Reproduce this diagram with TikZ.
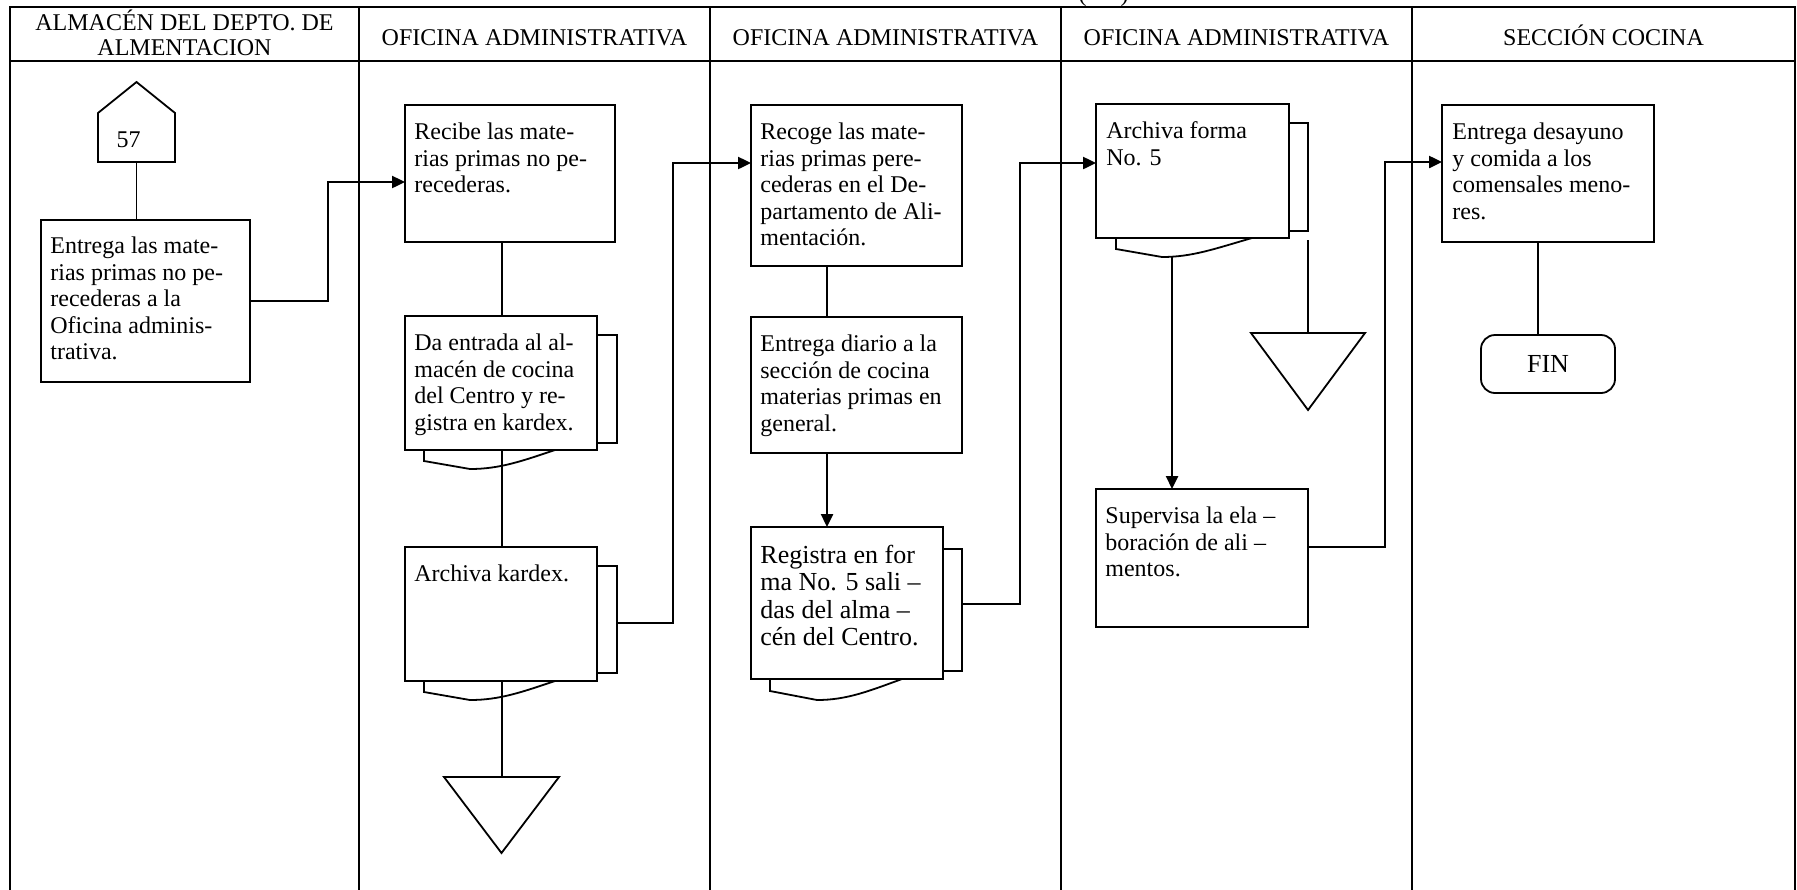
\documentclass[tikz,border=0pt]{standalone}
\usepackage{fontspec}
\setmainfont{Liberation Serif}
\usetikzlibrary{arrows.meta,fit}
\newcommand\fs{\fontsize{12}{13.25}\selectfont}
\newcommand\fsb{\fontsize{13}{13.6}\selectfont}
\newcommand\fl{\rule{0pt}{9.6pt}}
\newcommand\hl{\rule{0pt}{11pt}}
\begin{document}
\begin{tikzpicture}[x=0.5pt,y=-0.5pt,
  frame/.style={line width=1.1pt},
  shp/.style={line width=0.9pt},
  box/.style={draw, line width=0.9pt, inner sep=0pt, outer sep=0pt, fit={#1}},
  ghost/.style={inner sep=0pt, outer sep=0pt, fit={#1}},
  txt/.style={anchor=north west, inner sep=0pt, align=left, font=\fs},
  head/.style={anchor=north, inner sep=0pt, align=center, font=\fontsize{12}{12.5}\selectfont},
  ln/.style={line width=0.8pt},
  arr/.style={line width=1.2pt, -{Triangle[length=6.5pt,width=6pt]}},
  line join=miter]
\useasboundingbox (0,0) rectangle (1797,889);

% swimlane table
\draw[frame] (10,895) -- (10,7) -- (1795,7) -- (1795,895);
\draw[frame] (10,61) -- (1795,61);
\foreach \x in {359,710,1061,1412} \draw[frame] (\x,7) -- (\x,895);
\node[anchor=base, inner sep=0pt, font=\fontsize{12}{13}\selectfont] (cont) at (1103.5,1) {(\hspace{17pt})};

% lane headers
\node[head] (h1) at (184.5,8) {\hl ALMACÉN DEL DEPTO. DE\\ALMENTACION};
\node[head] (h2) at (534.5,23.5) {\hl OFICINA ADMINISTRATIVA};
\node[head] (h3) at (885.5,23.5) {\hl OFICINA ADMINISTRATIVA};
\node[head] (h4) at (1236.5,23.5) {\hl OFICINA ADMINISTRATIVA};
\node[head] (h5) at (1603.5,23.5) {\hl SECCIÓN COCINA};

% lane 1
\node[ghost={(98,82)(175,162)}] (off57) {};
\draw[shp] (98,162) -- (98,113) -- (136.5,82) -- (175,113) -- (175,162) -- cycle;
\node[anchor=base, inner sep=0pt, font=\fs] (t57) at (128.5,147) {57};
\node[box={(41,220)(250,382)}] (b1) {};
\node[txt] (t1) at ([shift={(9,14)}]b1.north west) {\fl Entrega las mate-\\rias primas no pe-\\recederas a la\\Oficina adminis-\\trativa.};
\draw[ln] (off57.south) -- (off57.south |- b1.north);

% lane 2
\node[box={(405,105)(615,242)}] (b2) {};
\node[txt] (t2) at ([shift={(9,15)}]b2.north west) {\fl Recibe las mate-\\rias primas no pe-\\recederas.};
\coordinate (k1) at (328,182);
\draw[arr] (b1.east) -| (k1) -- (k1 -| b2.west);

\node[box={(405,316)(597,450)}] (d3) {};
\draw[shp] (597,335) -| (617,443) -- (597,443);
\draw[shp] (424,450) -- (424,461) -- (470,469) .. controls (500,469) and (522,461) .. (555,450);
\node[txt] (t3) at ([shift={(9,15)}]d3.north west) {\fl Da entrada al al-\\macén de cocina\\del Centro y re-\\gistra en kardex.};

\node[box={(405,547)(597,681)}] (d4) {};
\draw[shp] (597,566) -| (617,673) -- (597,673);
\draw[shp] (424,681) -- (424,692) -- (470,700) .. controls (500,700) and (522,692) .. (555,681);
\node[txt] (t4) at ([shift={(9,15)}]d4.north west) {\fl Archiva kardex.};

\node[ghost={(444,777)(559,853)}] (tri1) {};
\draw[shp] (tri1.north west) -- (tri1.north east) -- (tri1.south) -- cycle;

\coordinate (x2) at (502,0);
\draw[ln] (b2.south -| x2) -- (d3.north -| x2);
\draw[ln] (d3.south -| x2) -- (d4.north -| x2);
\draw[ln] (d4.south -| x2) -- (tri1.north -| x2);

% lane 3
\node[box={(751,105)(962,266)}] (b5) {};
\node[txt] (t5) at ([shift={(9,15)}]b5.north west) {\fl Recoge las mate-\\rias primas pere-\\cederas en el De-\\partamento de Ali-\\mentación.};
\coordinate (d4r) at (617,623);
\coordinate (k2) at (673,163);
\draw[arr] (d4r) -| (k2) -- (k2 -| b5.west);

\node[box={(751,317)(962,453)}] (b6) {};
\node[txt] (t6) at ([shift={(9,15)}]b6.north west) {\fl Entrega diario a la\\sección de cocina\\materias primas en\\general.};

\node[box={(751,527)(943,679)}] (d7) {};
\draw[shp] (943,549) -| (962,671) -- (943,671);
\draw[shp] (770,679) -- (770,691) -- (817,700) .. controls (847,700) and (869,691) .. (902,679);
\node[txt, font=\fsb] (t7) at ([shift={(9,17)}]d7.north west) {\fl Registra en for\\ma No. 5 sali –\\das del alma –\\cén del Centro.};

\coordinate (x3) at (827,0);
\draw[ln] (b5.south -| x3) -- (b6.north -| x3);
\draw[arr] (b6.south -| x3) -- (d7.north -| x3);

% lane 4
\node[box={(1096,104)(1289,238)}] (d8) {};
\draw[shp] (1289,123) -| (1308,231) -- (1289,231);
\draw[shp] (1116,238) -- (1116,249) -- (1162,257) .. controls (1192,257) and (1214,249) .. (1252,238);
\node[txt] (t8) at ([shift={(10,15)}]d8.north west) {\fl Archiva forma\\No. 5};
\coordinate (d7r) at (962,604);
\coordinate (k3) at (1020,163);
\draw[arr] (d7r) -| (k3) -- (k3 -| d8.west);

\node[ghost={(1251,333)(1365,410)}] (tri2) {};
\draw[shp] (tri2.north west) -- (tri2.north east) -- (tri2.south) -- cycle;
\coordinate (d8b) at (1308,240);
\draw[ln] (d8b) -- (d8b |- tri2.north);

\node[box={(1096,489)(1308,627)}] (b10) {};
\node[txt] (t10) at ([shift={(9,15)}]b10.north west) {\fl Supervisa la ela –\\boración de ali –\\mentos.};
\coordinate (d8w) at (1172,256);
\draw[arr] (d8w) -- (d8w |- b10.north);

% lane 5
\node[box={(1442,105)(1654,242)}] (b9) {};
\node[txt] (t9) at ([shift={(10,15)}]b9.north west) {\fl Entrega desayuno\\y comida a los\\comensales meno-\\res.};
\coordinate (b10r) at (1308,547);
\coordinate (k4) at (1385,162);
\draw[arr] (b10r) -| (k4) -- (k4 -| b9.west);

\node[draw, line width=0.9pt, rounded corners=7pt, minimum width=67pt, minimum height=29pt, inner sep=0pt, outer sep=0pt, font=\fontsize{13}{15}\selectfont] (fin) at (1548,364) {FIN};
\coordinate (x5) at (1538,0);
\draw[ln] (b9.south -| x5) -- (fin.north -| x5);
\end{tikzpicture}
\end{document}
